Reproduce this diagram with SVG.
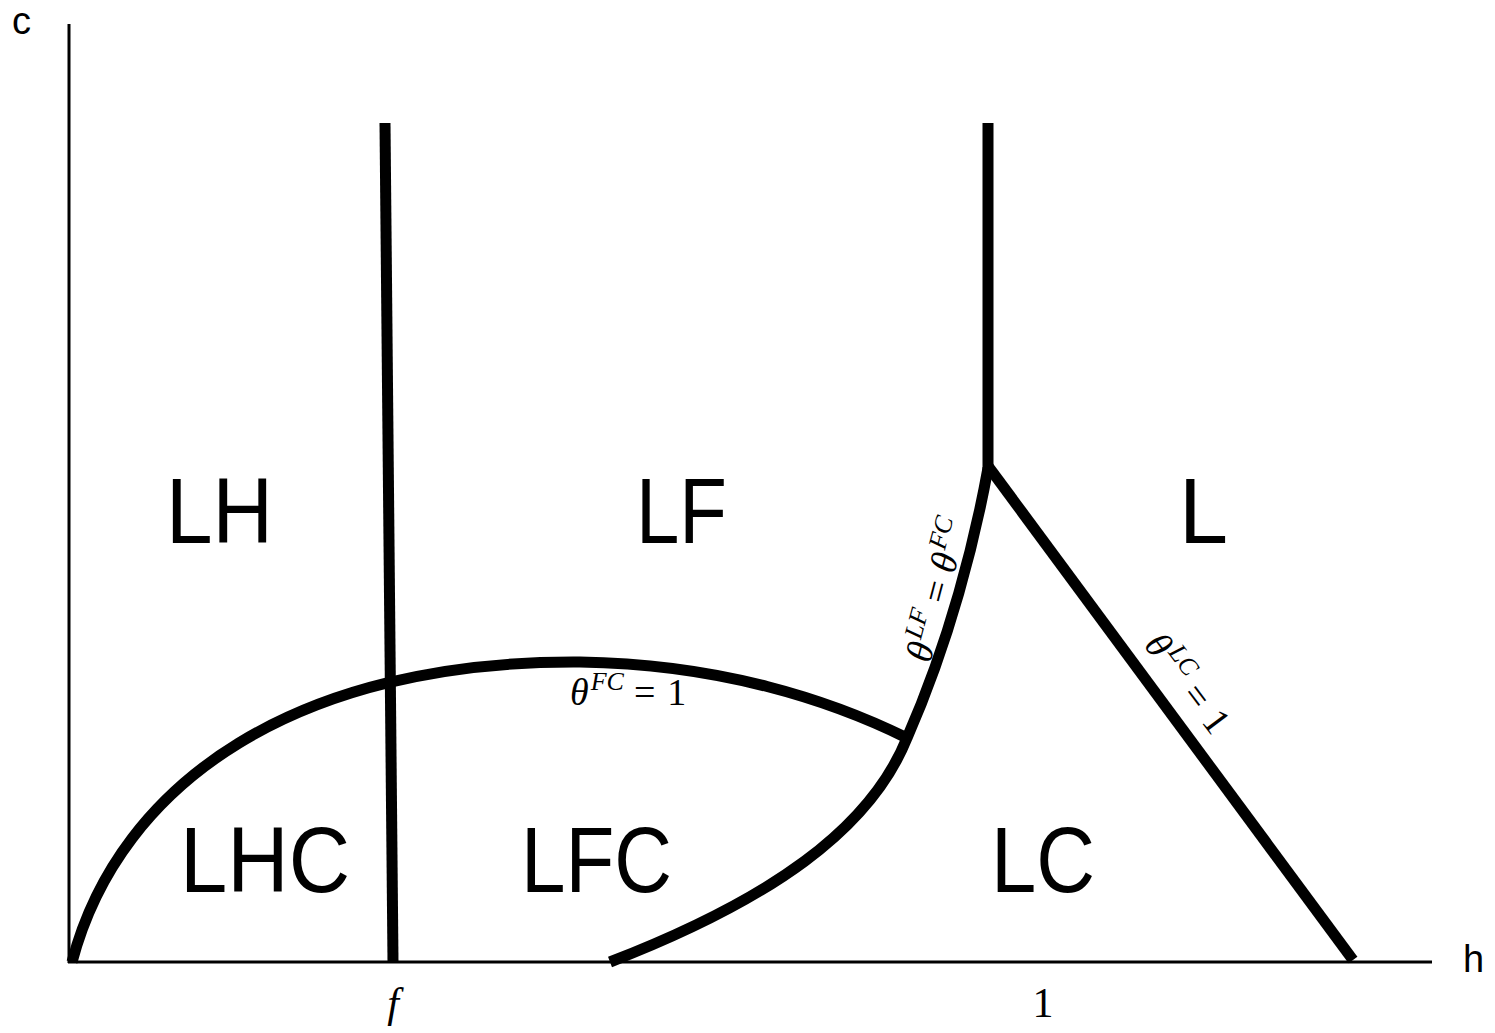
<svg xmlns="http://www.w3.org/2000/svg" width="1495" height="1033" viewBox="0 0 1495 1033">
<style>
.axis{stroke:#000;stroke-width:3;fill:none}
.bd{stroke:#000;stroke-width:11;fill:none;stroke-linejoin:miter}
.reg{font-family:"Liberation Sans",Arial,sans-serif;font-size:92px;fill:#000}
.ax{font-family:"Liberation Sans",Arial,sans-serif;font-size:38px;fill:#000}
.m{font-family:"Liberation Serif","Times New Roman",serif;fill:#000}
.it{font-style:italic}
</style>
<rect width="1495" height="1033" fill="#fff"/>
<g id="axes">
<line class="axis" x1="69" y1="24" x2="69" y2="963"/>
<line class="axis" x1="68" y1="962" x2="1432" y2="962"/>
<text class="ax" x="12" y="34">c</text>
<text class="ax" x="1463" y="972">h</text>
<text class="m it" x="393" y="1017" font-size="42" text-anchor="middle">f</text>
<text class="m" x="1043" y="1017" font-size="42" text-anchor="middle">1</text>
</g>
<g id="connectors">
<line class="bd" x1="385" y1="123" x2="393" y2="962"/>
<line class="bd" x1="988" y1="123" x2="988" y2="470"/>
<path class="bd" d="M988,466 L1353,960"/>
<path class="bd" d="M72,962 C120,780 300,660 580,662 C720,664 830,700 907,738"/>
<path class="bd" d="M988,468 C975,540 950,640 907,738 C870,830 770,900 610,962"/>
</g>
<g id="LH"><text class="reg" x="166" y="543" textLength="107" lengthAdjust="spacingAndGlyphs">LH</text></g>
<g id="LF"><text class="reg" x="636" y="543" textLength="91" lengthAdjust="spacingAndGlyphs">LF</text></g>
<g id="L"><text class="reg" x="1179" y="543" textLength="49" lengthAdjust="spacingAndGlyphs">L</text></g>
<g id="LHC"><text class="reg" x="180" y="892" textLength="170" lengthAdjust="spacingAndGlyphs">LHC</text></g>
<g id="LFC"><text class="reg" x="521" y="892" textLength="151" lengthAdjust="spacingAndGlyphs">LFC</text></g>
<g id="LC"><text class="reg" x="991" y="892" textLength="104" lengthAdjust="spacingAndGlyphs">LC</text></g>
<g id="label-FC">
<text class="m" x="570" y="705" font-size="38"><tspan class="it">θ</tspan><tspan class="it" font-size="26" dy="-15" dx="2">FC</tspan><tspan dy="15" dx="10">=</tspan><tspan dx="12">1</tspan></text>
</g>
<g id="label-LF-FC">
<text class="m" transform="translate(930,664) rotate(-75)" font-size="38"><tspan class="it">θ</tspan><tspan class="it" font-size="26" dy="-15" dx="2">LF</tspan><tspan dy="15" dx="10">=</tspan><tspan class="it" dx="10">θ</tspan><tspan class="it" font-size="26" dy="-15" dx="2">FC</tspan></text>
</g>
<g id="label-LC">
<text class="m" transform="translate(1143,645) rotate(53)" font-size="38"><tspan class="it">θ</tspan><tspan class="it" font-size="26" dy="-15" dx="2">LC</tspan><tspan dy="15" dx="10">=</tspan><tspan dx="12">1</tspan></text>
</g>
</svg>
